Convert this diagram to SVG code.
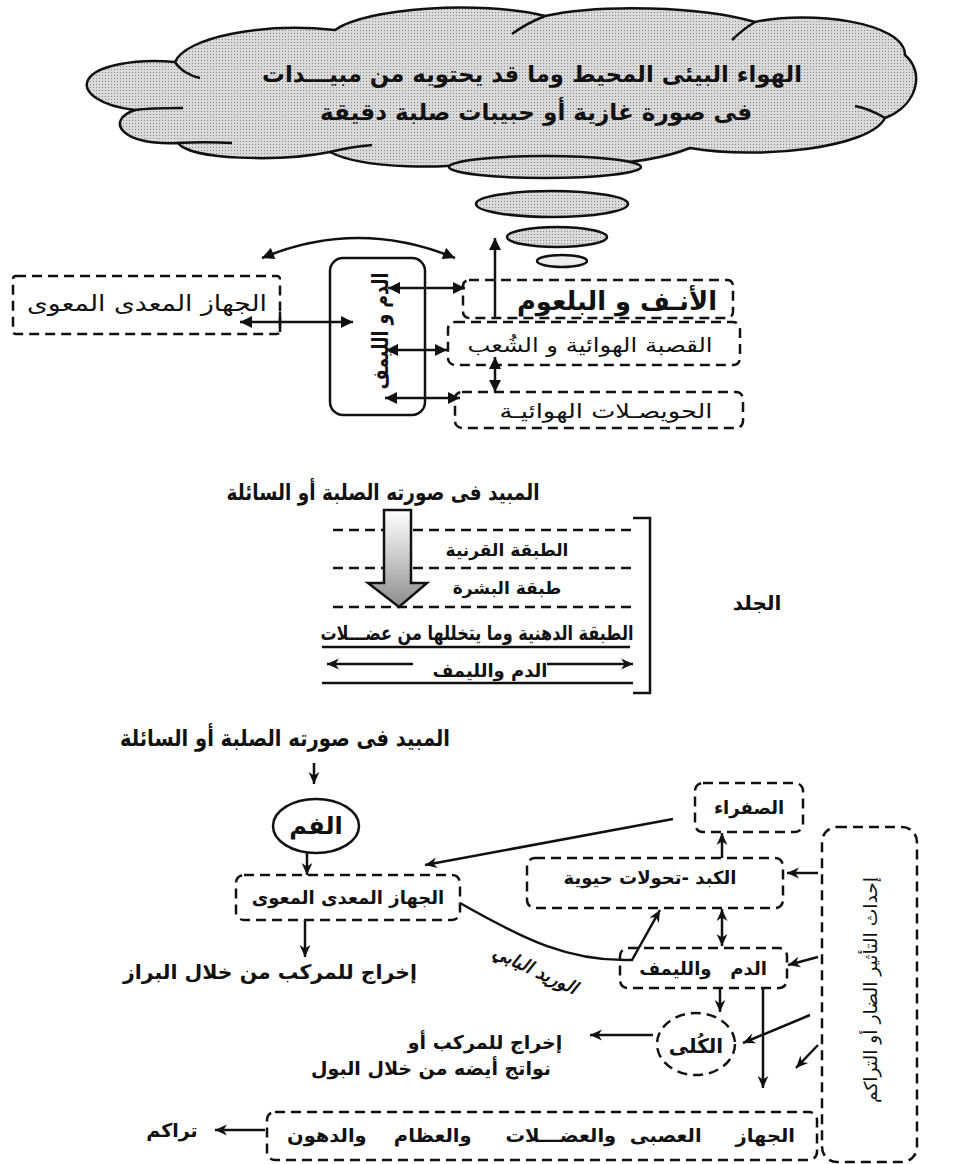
<svg xmlns="http://www.w3.org/2000/svg" width="977" height="1164" viewBox="0 0 977 1164">
<style>
.dash{fill:none;stroke:#111;stroke-width:2.5;stroke-dasharray:10 6}
.ln{fill:none;stroke:#111;stroke-width:2.5}
.t{font-family:"DejaVu Sans",sans-serif;font-weight:bold;text-anchor:middle;fill:#111}
.n{font-weight:normal}
.tri{marker-end:url(#tri)}
.tri2{marker-start:url(#tri);marker-end:url(#tri)}
.v{marker-end:url(#vee)}
.v2{marker-start:url(#vee);marker-end:url(#vee)}
</style>
<defs>
<pattern id="dots" width="3" height="3" patternUnits="userSpaceOnUse">
<rect width="3" height="3" fill="#dadada"/>
<rect width="1" height="1" fill="#8a8a8a"/>
</pattern>
<linearGradient id="grad" x1="0" y1="0" x2="0" y2="1">
<stop offset="0" stop-color="#ffffff"/>
<stop offset="0.45" stop-color="#cfcfcf"/>
<stop offset="1" stop-color="#8c8c8c"/>
</linearGradient>
<marker id="tri" viewBox="0 0 10 10" refX="10" refY="5" markerWidth="14" markerHeight="12" markerUnits="userSpaceOnUse" orient="auto-start-reverse">
<path d="M0,0 L10,5 L0,10 z" fill="#111"/>
</marker>
<marker id="vee" viewBox="0 0 10 10" refX="10" refY="5" markerWidth="13" markerHeight="12" markerUnits="userSpaceOnUse" orient="auto-start-reverse">
<path d="M0,0.5 L10,5 L0,9.5 L3,5 z" fill="#111"/>
</marker>
</defs>
<rect width="977" height="1164" fill="#fff"/>

<!-- Cloud -->
<g id="cloud">
<path d="M88,80 C95,66 135,58 175,62 C185,38 260,22 335,30 C365,8 480,0 545,16 C600,4 700,6 755,22 C810,10 905,22 905,55 C925,72 918,105 885,118 C870,148 760,160 690,148 C640,168 540,170 500,158 C450,172 360,168 330,152 C280,162 190,160 178,143 C120,146 105,120 135,110 C100,106 82,92 88,80 Z" fill="url(#dots)" stroke="#111" stroke-width="2.5"/>
<path d="M175,62 C180,70 190,76 200,78" class="ln" stroke-width="2"/>
<path d="M135,110 C150,108 170,108 183,108" class="ln" stroke-width="2"/>
<path d="M178,143 C195,142 215,142 232,143" class="ln" stroke-width="2"/>
<path d="M330,152 C345,148 360,146 372,145" class="ln" stroke-width="2"/>
<path d="M545,16 C530,22 520,28 512,34" class="ln" stroke-width="2"/>
<path d="M755,22 C745,28 738,34 732,40" class="ln" stroke-width="2"/>
<path d="M885,118 C875,112 866,108 855,106" class="ln" stroke-width="2"/>
<text class="t" x="532" y="82" font-size="23" textLength="540" lengthAdjust="spacingAndGlyphs">الهواء البيئى المحيط وما قد يحتويه من مبيـــدات</text>
<text class="t" x="536" y="120" font-size="23" textLength="432" lengthAdjust="spacingAndGlyphs">فى صورة غازية أو حبيبات صلبة دقيقة</text>
</g>

<g id="puffs">
<ellipse cx="545" cy="167" rx="96" ry="11" fill="url(#dots)" stroke="#111" stroke-width="2.5"/>
<ellipse cx="552" cy="204" rx="76" ry="13" fill="url(#dots)" stroke="#111" stroke-width="2.5"/>
<ellipse cx="557" cy="237" rx="50" ry="10" fill="url(#dots)" stroke="#111" stroke-width="2.5"/>
<ellipse cx="562" cy="261" rx="25" ry="6" fill="#eee" stroke="#111" stroke-width="2.5"/>
</g>

<!-- Respiratory section -->
<g id="gut1">
<rect class="dash" x="13" y="276" width="267" height="58" rx="3"/>
<text class="t n" x="147" y="311" font-size="22" textLength="240" lengthAdjust="spacingAndGlyphs">الجهاز المعدى المعوى</text>
</g>
<g id="blood1">
<rect class="ln" x="330" y="258" width="95" height="157" rx="13"/>
<text class="t" transform="translate(380,331) rotate(-90)" x="0" y="8" font-size="22" textLength="117" lengthAdjust="spacingAndGlyphs">الدم و الليمف</text>
</g>
<g id="nose">
<rect class="dash" x="463" y="280" width="270" height="38" rx="6"/>
<text class="t" x="617" y="310" font-size="26" textLength="200" lengthAdjust="spacingAndGlyphs">الأنـف و البلعوم</text>
</g>
<g id="trachea">
<rect class="dash" x="448" y="322" width="292" height="43" rx="7"/>
<text class="t n" x="590" y="352" font-size="20" textLength="245" lengthAdjust="spacingAndGlyphs">القصبة الهوائية و الشُعب</text>
</g>
<g id="alveoli">
<rect class="dash" x="455" y="392" width="288" height="36" rx="7"/>
<text class="t n" x="606" y="418" font-size="20" textLength="213" lengthAdjust="spacingAndGlyphs">الحويصـلات الهوائيـة</text>
</g>

<!-- Skin section -->
<g id="skin">
<text class="t" x="383" y="500" font-size="22" textLength="313" lengthAdjust="spacingAndGlyphs">المبيد فى صورته الصلبة أو السائلة</text>
<line class="dash" x1="333" y1="530" x2="633" y2="530" stroke-width="2" stroke-dasharray="9 6"/>
<line class="dash" x1="333" y1="568" x2="633" y2="568" stroke-width="2" stroke-dasharray="9 6"/>
<line class="dash" x1="333" y1="607" x2="633" y2="607" stroke-width="2" stroke-dasharray="9 6"/>
<polygon points="384,510 411,510 411,583 427,583 399,607 368,583 384,583" fill="url(#grad)" stroke="#111" stroke-width="2.5" stroke-linejoin="miter"/>
<text class="t" x="507" y="556" font-size="17">الطبقة القرنية</text>
<text class="t" x="507" y="594" font-size="17">طبقة البشرة</text>
<text class="t" x="477" y="640" font-size="20" textLength="313" lengthAdjust="spacingAndGlyphs">الطبقة الدهنية وما يتخللها من عضـــلات</text>
<line class="ln" x1="322" y1="647" x2="630" y2="647"/>
<line class="ln v" x1="413" y1="664" x2="327" y2="664"/>
<line class="ln v" x1="547" y1="664" x2="633" y2="664"/>
<text class="t" x="490" y="677" font-size="18">الدم والليمف</text>
<line class="ln" x1="322" y1="683" x2="633" y2="683"/>
<path class="ln" d="M633,518 H650 V693 H633"/>
<text class="t" x="757" y="610" font-size="20">الجلد</text>
</g>

<!-- Oral section nodes -->
<text class="t" x="285" y="746" font-size="23" textLength="330" lengthAdjust="spacingAndGlyphs">المبيد فى صورته الصلبة أو السائلة</text>
<g id="mouth">
<ellipse class="ln" cx="316" cy="826" rx="43" ry="27"/>
<text class="t" x="316" y="834" font-size="24">الفم</text>
</g>
<g id="gut2">
<rect class="dash" x="236" y="875" width="224" height="45" rx="8"/>
<text class="t" x="348" y="904" font-size="18">الجهاز المعدى المعوى</text>
</g>
<text class="t" x="270" y="979" font-size="20" textLength="294" lengthAdjust="spacingAndGlyphs">إخراج للمركب من خلال البراز</text>
<text class="t" transform="translate(535,970) rotate(25)" x="0" y="6" font-size="18" font-style="italic">الوريد البابي</text>
<g id="bile">
<rect class="dash" x="695" y="783" width="108" height="49" rx="8"/>
<text class="t" x="749" y="814" font-size="18">الصفراء</text>
</g>
<g id="liver">
<rect class="dash" x="527" y="858" width="256" height="50" rx="8"/>
<text class="t" x="650" y="884" font-size="18">الكبد -تحولات حيوية</text>
</g>
<g id="blood2">
<rect class="dash" x="620" y="948" width="167" height="40" rx="8"/>
<text class="t" x="703" y="975" font-size="18" xml:space="preserve">الدم   والليمف</text>
</g>
<g id="kidney">
<ellipse class="dash" cx="696" cy="1044" rx="39" ry="31"/>
<text class="t" x="696" y="1053" font-size="20">الكُلى</text>
</g>
<text class="t" x="485" y="1049" font-size="19">إخراج للمركب أو</text>
<text class="t" x="431" y="1075" font-size="19">نواتج أيضه من خلال البول</text>
<g id="tissues">
<rect class="dash" x="267" y="1112" width="550" height="48" rx="8"/>
<text class="t" x="541" y="1142" font-size="19" textLength="508" lengthAdjust="spacingAndGlyphs" xml:space="preserve">الجهاز     العصبى  والعضـــلات     والعظام    والدهون</text>
</g>
<text class="t" x="172" y="1137" font-size="19">تراكم</text>
<g id="effect">
<rect class="dash" x="822" y="827" width="95" height="335" rx="15"/>
<text class="t n" transform="translate(870,990) rotate(-90)" x="0" y="7" font-size="18" textLength="226" lengthAdjust="spacingAndGlyphs">إحداث التأثير الضار أو التراكم</text>
</g>

<!-- Connectors -->
<g id="connectors">
<path class="ln tri2" d="M262,258 Q358,218 455,258"/>
<line class="ln tri2" x1="240" y1="322" x2="353" y2="322"/>
<line class="ln" x1="280" y1="312" x2="280" y2="332"/>
<line class="ln tri2" x1="388" y1="288" x2="465" y2="288"/>
<line class="ln tri2" x1="386" y1="350" x2="447" y2="350"/>
<line class="ln tri2" x1="385" y1="398" x2="460" y2="398"/>
<line class="ln tri" x1="495" y1="318" x2="495" y2="238"/>
<line class="ln tri2" x1="495" y1="357" x2="495" y2="392"/>

<line class="ln v" x1="314" y1="763" x2="314" y2="784"/>
<line class="ln v" x1="307" y1="853" x2="307" y2="875"/>
<line class="ln v" x1="305" y1="920" x2="305" y2="957"/>
<line class="ln v" x1="673" y1="819" x2="425" y2="865"/>
<line class="ln v" x1="722" y1="858" x2="722" y2="833"/>
<line class="ln v" x1="818" y1="873" x2="787" y2="873"/>
<line class="ln v2" x1="722" y1="909" x2="722" y2="946"/>
<path class="ln v" d="M460,903 C525,940 570,962 632,960 L660,910"/>
<line class="ln v" x1="818" y1="957" x2="788" y2="965"/>
<line class="ln v" x1="720" y1="988" x2="720" y2="1012"/>
<line class="ln v" x1="653" y1="1035" x2="590" y2="1035"/>
<line class="ln v" x1="763" y1="988" x2="763" y2="1088"/>
<line class="ln v" x1="810" y1="1015" x2="743" y2="1043"/>
<line class="ln v" x1="818" y1="1045" x2="796" y2="1068"/>
<line class="ln v" x1="265" y1="1130" x2="215" y2="1130"/>
</g>
</svg>
